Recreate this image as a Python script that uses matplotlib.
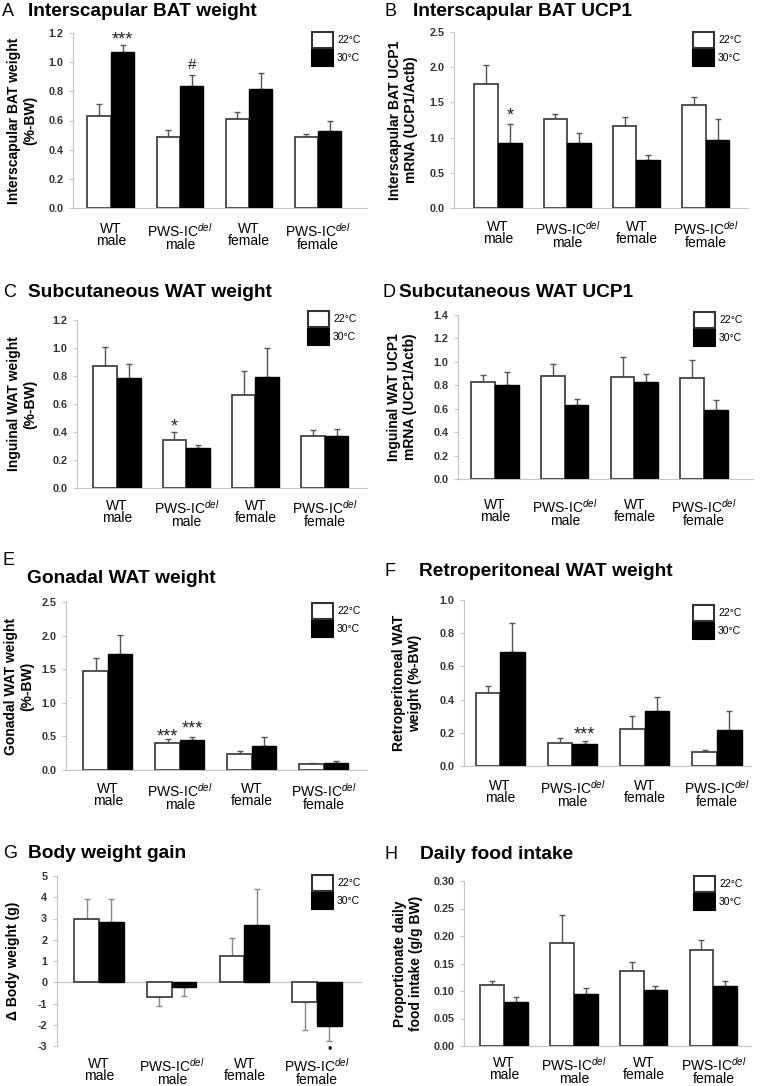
import numpy as np
import matplotlib
matplotlib.use('Agg')
import matplotlib.pyplot as plt
from matplotlib.patches import Patch

plt.rcParams['font.family'] = ['Liberation Sans', 'DejaVu Sans']
plt.rcParams['mathtext.fontset'] = 'custom'
plt.rcParams['mathtext.rm'] = 'Liberation Sans'
plt.rcParams['mathtext.it'] = 'Liberation Sans:italic'
plt.rcParams['axes.unicode_minus'] = True

W, H = 762, 1086

groups = ['WT\nmale', 'PWS-IC$^{\\mathit{del}}$\nmale',
          'WT\nfemale', 'PWS-IC$^{\\mathit{del}}$\nfemale']
temps = ['22°C', '30°C']

# A  interscapular BAT weight (%-BW)
bat_wt_22 = [0.63, 0.485, 0.61, 0.485]
bat_wt_22_se = [0.08, 0.05, 0.05, 0.025]
bat_wt_30 = [1.07, 0.84, 0.815, 0.525]
bat_wt_30_se = [0.045, 0.07, 0.11, 0.07]

# B  interscapular BAT UCP1 mRNA
bat_ucp_22 = [1.76, 1.26, 1.17, 1.46]
bat_ucp_22_se = [0.27, 0.07, 0.12, 0.11]
bat_ucp_30 = [0.93, 0.93, 0.68, 0.97]
bat_ucp_30_se = [0.27, 0.13, 0.07, 0.29]

# C  inguinal WAT weight (%-BW)
sub_wt_22 = [0.875, 0.342, 0.663, 0.375]
sub_wt_22_se = [0.135, 0.055, 0.17, 0.038]
sub_wt_30 = [0.784, 0.285, 0.791, 0.368]
sub_wt_30_se = [0.10, 0.02, 0.21, 0.055]

# D  inguinal WAT UCP1 mRNA
sub_ucp_22 = [0.83, 0.883, 0.869, 0.86]
sub_ucp_22_se = [0.057, 0.097, 0.17, 0.16]
sub_ucp_30 = [0.80, 0.633, 0.824, 0.591]
sub_ucp_30_se = [0.114, 0.046, 0.071, 0.085]

# E  gonadal WAT weight (%-BW)
gon_wt_22 = [1.48, 0.40, 0.24, 0.09]
gon_wt_22_se = [0.185, 0.06, 0.05, 0.01]
gon_wt_30 = [1.73, 0.44, 0.36, 0.11]
gon_wt_30_se = [0.28, 0.05, 0.13, 0.02]

# F  retroperitoneal WAT weight (%-BW)
ret_wt_22 = [0.438, 0.137, 0.221, 0.084]
ret_wt_22_se = [0.044, 0.032, 0.079, 0.012]
ret_wt_30 = [0.685, 0.133, 0.333, 0.217]
ret_wt_30_se = [0.178, 0.02, 0.085, 0.116]

# G  body weight gain (g)
bw_gain_22 = [2.97, -0.70, 1.25, -0.95]
bw_gain_22_se = [0.93, 0.40, 0.82, 1.29]
bw_gain_30 = [2.85, -0.23, 2.69, -2.05]
bw_gain_30_se = [1.05, 0.44, 1.71, 0.70]

# H  daily food intake (g/g BW)
food_22 = [0.1115, 0.187, 0.136, 0.174]
food_22_se = [0.0065, 0.052, 0.017, 0.019]
food_30 = [0.0806, 0.0945, 0.102, 0.109]
food_30_se = [0.009, 0.0105, 0.008, 0.010]

# significance marks: (group, series, text, offset from error bar end, pt)
marks_A = [(0, 1, '***', 0.4), (1, 1, '#', 4.7)]
marks_B = [(0, 1, '*', 2.5)]
marks_C = [(1, 0, '*', 0.4)]
marks_E = [(1, 0, '***', -1.8), (1, 1, '***', 2.5)]
marks_F = [(1, 1, '***', 1.1)]
marks_G = [(3, 1, '•', -6.5)]

# layout in pixels: axes (left, top, right, bottom), title / letter baselines
panels = [
    dict(letter='A', title='Interscapular BAT weight', ylabel='Interscapular BAT weight\n(%-BW)',
         data=(bat_wt_22, bat_wt_22_se, bat_wt_30, bat_wt_30_se), marks=marks_A,
         rect=(73, 33, 367, 208), xlim=(-0.55, 3.71), yticks=np.arange(0, 1.21, 0.2), fmt='%.1f',
         letter_xy=(2, 16), title_xy=(28, 16), leg_xy=(312, 32), ylab_x=22, xpad=14),
    dict(letter='B', title='Interscapular BAT UCP1', ylabel='Interscapular BAT UCP1\nmRNA (UCP1/Actb)',
         data=(bat_ucp_22, bat_ucp_22_se, bat_ucp_30, bat_ucp_30_se), marks=marks_B,
         rect=(454, 32, 748, 208), xlim=(-0.635, 3.61), yticks=np.arange(0, 2.51, 0.5), fmt='%.1f',
         letter_xy=(384, 16), title_xy=(413, 16), leg_xy=(693, 32), ylab_x=403, xpad=12),
    dict(letter='C', title='Subcutaneous WAT weight', ylabel='Inguinal WAT weight\n(%-BW)',
         data=(sub_wt_22, sub_wt_22_se, sub_wt_30, sub_wt_30_se), marks=marks_C,
         rect=(77, 320, 367, 488), xlim=(-0.577, 3.61), yticks=np.arange(0, 1.21, 0.2), fmt='%.1f',
         letter_xy=(3, 297), title_xy=(28, 297), leg_xy=(308, 311), ylab_x=22, xpad=11),
    dict(letter='D', title='Subcutaneous WAT UCP1', ylabel='Inguinal WAT UCP1\nmRNA (UCP1/Actb)',
         data=(sub_ucp_22, sub_ucp_22_se, sub_ucp_30, sub_ucp_30_se), marks=[],
         rect=(458, 315, 753, 479), xlim=(-0.53, 3.70), yticks=np.arange(0, 1.41, 0.2), fmt='%.1f',
         letter_xy=(383, 297), title_xy=(399, 297), leg_xy=(694, 312), ylab_x=402, xpad=19),
    dict(letter='E', title='Gonadal WAT weight', ylabel='Gonadal WAT weight\n(%-BW)',
         data=(gon_wt_22, gon_wt_22_se, gon_wt_30, gon_wt_30_se), marks=marks_E,
         rect=(66, 602, 367, 770), xlim=(-0.583, 3.60), yticks=np.arange(0, 2.51, 0.5), fmt='%.1f',
         letter_xy=(2, 565), title_xy=(27, 583), leg_xy=(312, 603), ylab_x=19, xpad=12),
    dict(letter='F', title='Retroperitoneal WAT weight', ylabel='Retroperitoneal WAT\nweight (%-BW)',
         data=(ret_wt_22, ret_wt_22_se, ret_wt_30, ret_wt_30_se), marks=marks_F,
         rect=(464, 600, 751, 766), xlim=(-0.50, 3.47), yticks=np.arange(0, 1.01, 0.2), fmt='%.1f',
         letter_xy=(385, 576), title_xy=(419, 576), leg_xy=(693, 605), ylab_x=407, xpad=13),
    dict(letter='G', title='Body weight gain', ylabel='Δ Body weight (g)',
         data=(bw_gain_22, bw_gain_22_se, bw_gain_30, bw_gain_30_se), marks=marks_G,
         rect=(57, 876, 362, 1046), xlim=(-0.58, 3.62), yticks=np.arange(-3, 5.1, 1), fmt='%d',
         letter_xy=(3, 858), title_xy=(28, 858), leg_xy=(312, 875), ylab_x=13, xpad=11),
    dict(letter='H', title='Daily food intake', ylabel='Proportionate daily\nfood intake (g/g BW)',
         data=(food_22, food_22_se, food_30, food_30_se), marks=[],
         rect=(464, 881, 751, 1046), xlim=(-0.574, 3.54), yticks=np.arange(0, 0.301, 0.05), fmt='%.2f',
         letter_xy=(385, 859), title_xy=(420, 859), leg_xy=(694, 876), ylab_x=408, xpad=10),
]


def px(x):
    return x / W


def py(y):
    return 1 - y / H


fig = plt.figure(figsize=(W / 100, H / 100), dpi=100)
width = 0.34
spine_col = '#c4c4c4'

for p in panels:
    l, t, r, b = p['rect']
    ax = fig.add_axes([px(l), py(b), px(r) - px(l), py(t) - py(b)])
    v22, e22, v30, e30 = [np.asarray(a, dtype=float) for a in p['data']]
    x = np.arange(len(groups))
    xs = [x - width / 2, x + width / 2]

    ax.bar(xs[0], v22, width, color='white', edgecolor='#444444', linewidth=1.3, zorder=3)
    ax.bar(xs[1], v30, width, color='black', edgecolor='black', linewidth=1.0, zorder=3)
    for xx, v, e in ((xs[0], v22, e22), (xs[1], v30, e30)):
        lower = np.where(v < 0, e, 0)
        upper = np.where(v < 0, 0, e)
        ecol = '#555555' if np.all(v >= 0) else '#888888'
        ax.errorbar(xx, v, yerr=[lower, upper], fmt='none', ecolor=ecol,
                    elinewidth=1.0, capsize=2.5, capthick=1.0, zorder=2)

    for g, s, txt, off in p['marks']:
        v = (v22, v30)[s][g]
        e = (e22, e30)[s][g]
        end = v + e if v >= 0 else v - e
        if txt == '•':
            ax.annotate(txt, (xs[s][g], end), xytext=(0, off), textcoords='offset points',
                        ha='center', va='center', fontsize=9, color='#111111')
            continue
        size = 11 if txt == '#' else 13
        ax.annotate(txt, (xs[s][g], end), xytext=(0, off), textcoords='offset points',
                    ha='center', va='baseline', fontsize=size, color='#222222')

    yt = p['yticks']
    ax.set_ylim(yt[0], yt[-1])
    ax.set_xlim(*p['xlim'])
    ax.set_yticks(yt)
    ax.set_yticklabels([p['fmt'] % v for v in yt], fontsize=7.8, fontweight='bold', color='#333333')
    ax.set_xticks(x)
    ax.set_xticklabels(groups, fontsize=10, linespacing=0.85)
    ax.tick_params(axis='x', length=0, pad=p['xpad'] * 0.72)
    ax.tick_params(axis='y', length=3, width=0.8, color=spine_col, pad=4)
    for side in ('top', 'right'):
        ax.spines[side].set_visible(False)
    ax.spines['left'].set_color(spine_col)
    ax.spines['bottom'].set_color(spine_col)
    if yt[0] < 0:
        ax.spines['bottom'].set_visible(False)
        ax.axhline(0, color=spine_col, linewidth=0.8, zorder=1)

    handles = [Patch(facecolor='white', edgecolor='#333333', linewidth=1.5),
               Patch(facecolor='black', edgecolor='black', linewidth=1.5)]
    ax.legend(handles, temps, loc='upper left', bbox_transform=fig.transFigure,
              bbox_to_anchor=(px(p['leg_xy'][0]), py(p['leg_xy'][1])), frameon=False,
              fontsize=7.5, handlelength=2.0, handleheight=2.0, labelspacing=0.15,
              handletextpad=0.4, borderpad=0, borderaxespad=0)

    fig.text(px(p['letter_xy'][0]), py(p['letter_xy'][1]), p['letter'], fontsize=13,
             ha='left', va='baseline')
    fig.text(px(p['title_xy'][0]), py(p['title_xy'][1]), p['title'], fontsize=13.8,
             fontweight='bold', ha='left', va='baseline')
    fig.text(px(p['ylab_x']), py((t + b) / 2), p['ylabel'], rotation=90, fontsize=10,
             fontweight='bold', ha='center', va='center', multialignment='center',
             linespacing=1.2)

fig.savefig('out.png', dpi=100)
